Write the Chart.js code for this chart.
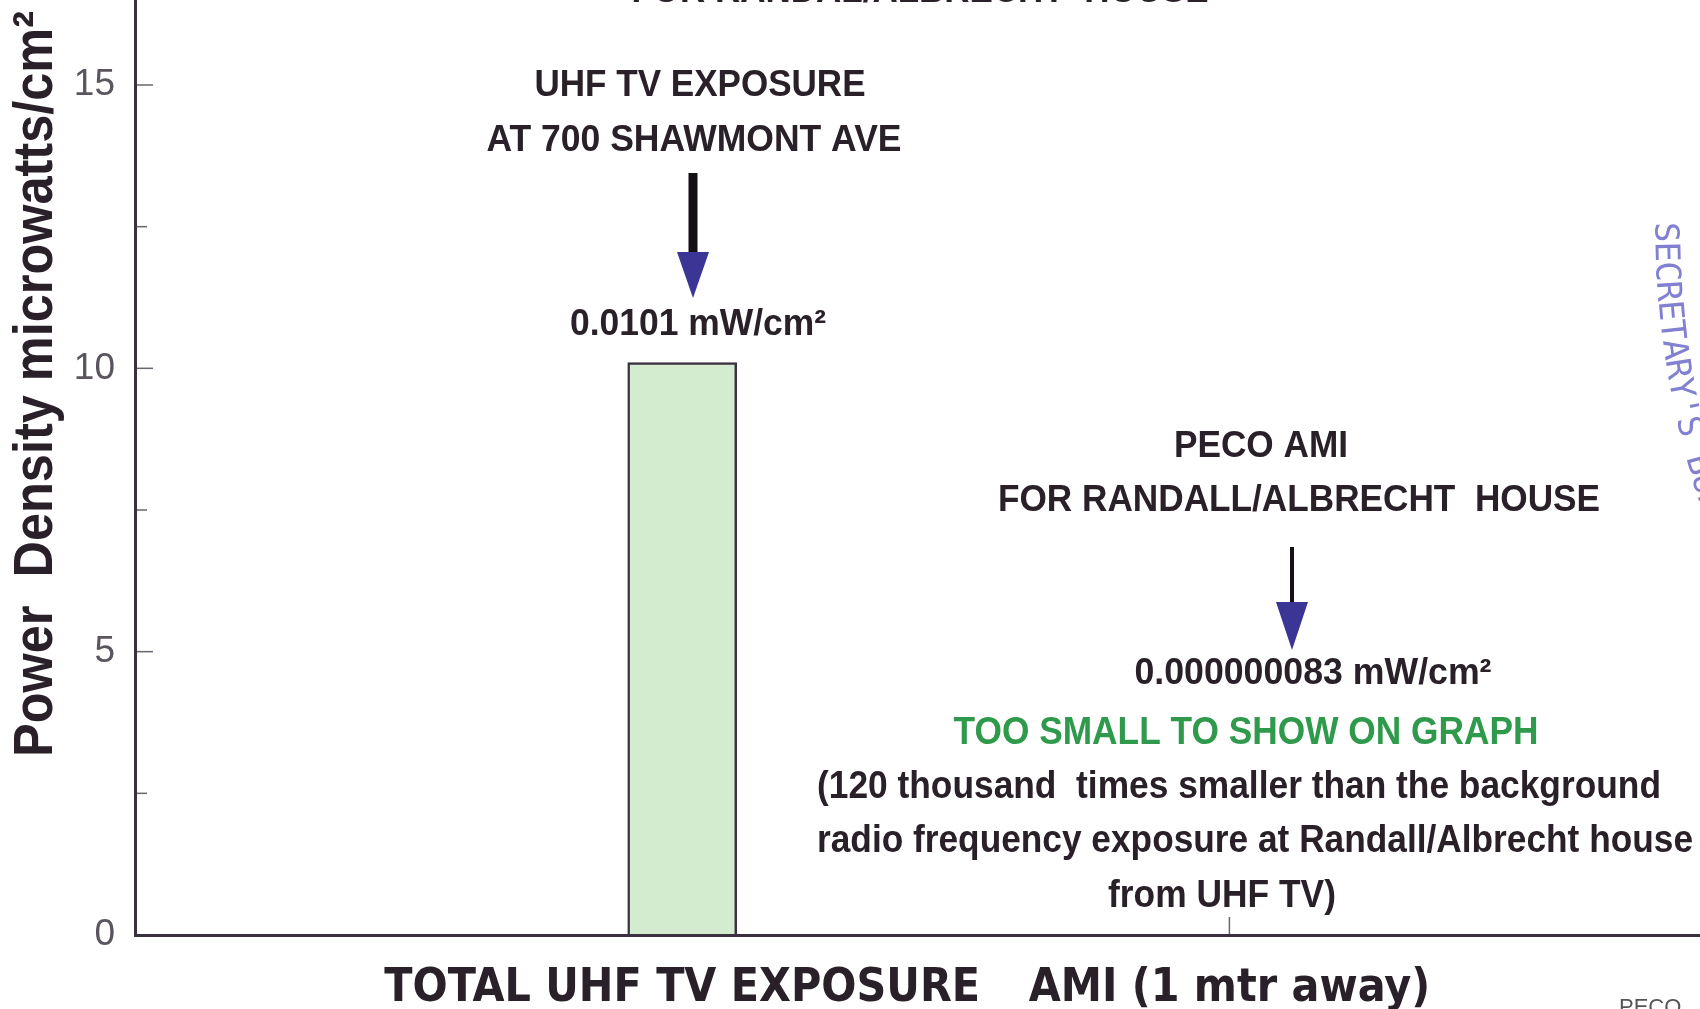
<!DOCTYPE html>
<html>
<head>
<meta charset="utf-8">
<script src="https://cdn.jsdelivr.net/npm/chart.js@4.4.0/dist/chart.umd.min.js"></script>
<style>
html,body{margin:0;padding:0;background:#fff;overflow:hidden}
#wrap{width:1700px;height:1009px}
</style>
</head>
<body>
<div id="wrap"><canvas id="c" width="1700" height="1009"></canvas></div>
<script>
// data: power density in microwatts/cm2
const categories = ['TOTAL UHF TV EXPOSURE', 'AMI (1 mtr away)'];
const catPos = [1, 2];
const exposure = [10.1, 0.000083];
const yTicks = [0, 5, 10, 15];
const yMinorTicks = [2.5, 7.5, 12.5];

const ink = '#2a2029', axisCol = '#3b3040', blue = '#3b3596', green = '#2f9a4c';
const cond = 'DejaVu Sans Condensed';
const sans = 'Liberation Sans';

// size the category labels so they span like the original
const mc = document.createElement('canvas').getContext('2d');
mc.font = 'bold 55px "' + cond + '"';
const catSize = Math.round(55 * 592 / mc.measureText(categories[0]).width);

function fitText(ctx, txt, cx, cy, w, font, color){
  ctx.save(); ctx.font = font; ctx.fillStyle = color;
  ctx.textAlign = 'center'; ctx.textBaseline = 'middle';
  const m = ctx.measureText(txt).width;
  ctx.translate(cx, cy); ctx.scale(w / m, 1); ctx.fillText(txt, 0, 0);
  ctx.restore();
}

// notes: [text, centre x, centre y, width, font, colour]
const B36 = 'bold 36px "' + sans + '"', B37 = 'bold 38px "' + sans + '"';
const notes = [
  ['FOR RANDAL/ALBRECHT  HOUSE', 920, -8, 577, B36, ink],
  ['UHF TV EXPOSURE', 700, 86, 331, B36, ink],
  ['AT 700 SHAWMONT AVE', 694, 141, 415, B36, ink],
  ['0.0101 mW/cm²', 698, 325, 256, B36, ink],
  ['PECO AMI', 1261, 447, 174, B36, ink],
  ['FOR RANDALL/ALBRECHT  HOUSE', 1299, 501, 602, B36, ink],
  ['0.000000083 mW/cm²', 1313, 674, 357, B36, ink],
  ['TOO SMALL TO SHOW ON GRAPH', 1246, 734, 585, B37, green],
  ['(120 thousand  times smaller than the background', 1239, 788, 844, B37, ink],
  ['radio frequency exposure at Randall/Albrecht house', 1255, 842, 876, B37, ink],
  ['from UHF TV)', 1222, 897, 228, B37, ink]
];

function arrow(ctx, x, y0, y1, y2, half, shaft){
  ctx.save();
  ctx.strokeStyle = '#151015'; ctx.lineWidth = shaft;
  ctx.beginPath(); ctx.moveTo(x, y0); ctx.lineTo(x, y1 + 2); ctx.stroke();
  ctx.fillStyle = blue;
  ctx.beginPath(); ctx.moveTo(x - half, y1); ctx.lineTo(x + half, y1); ctx.lineTo(x, y2); ctx.closePath(); ctx.fill();
  ctx.restore();
}

const decor = {
  id: 'decor',
  beforeDatasetsDraw(chart){
    const ctx = chart.ctx, xs = chart.scales.x, ys = chart.scales.y;
    const ax = xs.left, by = ys.bottom;
    ctx.save();
    ctx.strokeStyle = '#6a6470'; ctx.lineWidth = 1.5;
    yTicks.forEach(v => { if (v === 0) return; const p = ys.getPixelForValue(v);
      ctx.beginPath(); ctx.moveTo(ax, p); ctx.lineTo(ax + 18, p); ctx.stroke(); });
    yMinorTicks.forEach(v => { const p = ys.getPixelForValue(v);
      ctx.beginPath(); ctx.moveTo(ax, p); ctx.lineTo(ax + 12, p); ctx.stroke(); });
    catPos.forEach(v => { const p = xs.getPixelForValue(v);
      ctx.beginPath(); ctx.moveTo(p, by); ctx.lineTo(p, by - 18); ctx.stroke(); });
    ctx.restore();
  },
  afterDraw(chart){
    const ctx = chart.ctx;
    arrow(ctx, 693, 173, 252, 298, 16, 9);
    arrow(ctx, 1292, 547, 602, 650, 16, 4);

    notes.forEach(n => fitText(ctx, n[0], n[1], n[2], n[3], n[4], n[5]));

    // axis title
    ctx.save();
    ctx.translate(37, 384); ctx.rotate(-Math.PI / 2);
    ctx.font = 'bold 56px "' + sans + '"'; ctx.fillStyle = ink;
    ctx.textAlign = 'center'; ctx.textBaseline = 'middle';
    const t = 'Power  Density microwatts/cm²';
    ctx.scale(746 / ctx.measureText(t).width, 1); ctx.fillText(t, 0, 0);
    ctx.restore();

    // curved stamp at the right edge
    ctx.save();
    ctx.font = '34px "DejaVu Sans Mono"'; ctx.fillStyle = '#8280d0';
    ctx.textAlign = 'left'; ctx.textBaseline = 'middle';
    const r = 900, cx = 1664 + r, cy = 222;
    let tt = 0;
    for (const ch of "SECRETARY'S BUREAU") {
      const w = ctx.measureText(ch).width * 0.96;
      ctx.save();
      ctx.translate(cx - r * Math.cos(tt), cy + r * Math.sin(tt));
      ctx.rotate(Math.PI / 2 - tt);
      ctx.fillText(ch, 0, 0);
      ctx.restore();
      tt += w / r;
    }
    ctx.restore();

    ctx.save();
    ctx.font = '22px "' + sans + '"'; ctx.fillStyle = '#555';
    ctx.textAlign = 'left'; ctx.textBaseline = 'top';
    ctx.fillText('PECO', 1619, 997);
    ctx.restore();
  }
};

new Chart(document.getElementById('c').getContext('2d'), {
  type: 'bar',
  data: {
    datasets: [{
      data: catPos.map((x, i) => ({ x: x, y: exposure[i] })),
      backgroundColor: '#d3ecd0',
      borderColor: axisCol,
      borderWidth: [2.5, 0],
      barThickness: 109
    }]
  },
  options: {
    responsive: false,
    animation: false,
    layout: { padding: 0 },
    plugins: { legend: { display: false }, tooltip: { enabled: false } },
    scales: {
      x: {
        type: 'linear', min: 0, max: 2.86, offset: false,
        afterBuildTicks: s => { s.ticks = catPos.map(v => ({ value: v })); },
        afterFit: s => { s.height = 74; s.paddingLeft = 0; s.paddingRight = 0; },
        grid: { offset: false, drawOnChartArea: false, drawTicks: false },
        border: { color: axisCol, width: 3, z: 1 },
        ticks: {
          callback: v => { const i = catPos.indexOf(v); return i < 0 ? '' : categories[i]; },
          font: { family: cond, size: catSize, weight: 'bold' },
          color: ink, padding: 26, maxRotation: 0, autoSkip: false
        }
      },
      y: {
        min: 0, max: 16.5,
        afterBuildTicks: s => { s.ticks = yTicks.map(v => ({ value: v })); },
        afterFit: s => { s.width = 135; s.paddingTop = 0; s.paddingBottom = 0; },
        grid: { drawOnChartArea: false, drawTicks: false },
        border: { color: axisCol, width: 3, z: 1 },
        ticks: { font: { family: sans, size: 37 }, color: '#5b5560', padding: 20 }
      }
    }
  },
  plugins: [decor]
});
</script>
</body>
</html>
